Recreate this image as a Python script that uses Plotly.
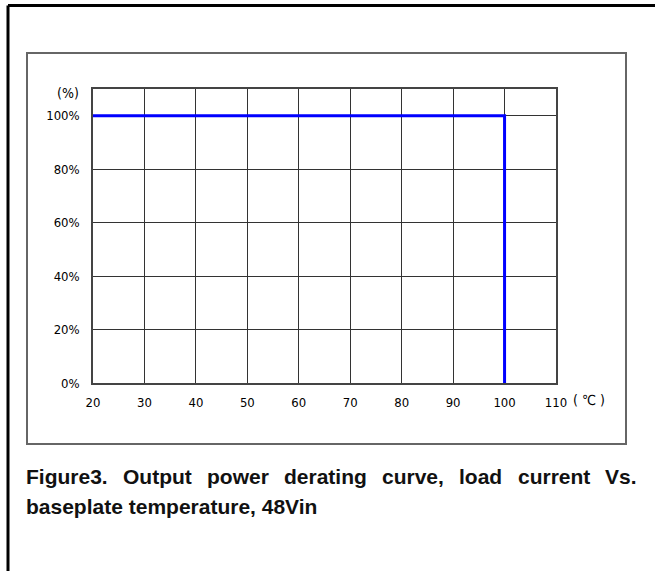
import plotly.graph_objects as go

# Data
temp_c = [20, 100, 100]
power_pct = [100, 100, 0]
x_ticks = [20, 30, 40, 50, 60, 70, 80, 90, 100, 110]
x_tick_labels = ["20", "30", "40", "50", "60", "70", "80", "90", "100", "110"]
y_ticks = [0, 20, 40, 60, 80, 100]
y_tick_labels = ["0%", "20%", "40%", "60%", "80%", "100%"]
caption_line1 = ["Figure3.", "Output", "power", "derating", "curve,", "load", "current", "Vs."]
caption_line2 = "baseplate temperature, 48Vin"

W, H = 655, 571
L, R, T, B = 93, 99, 89, 188
pw, ph = W - L - R, H - T - B

def px(x):
    return (x - L) / pw

def py(y):
    return (H - B - y) / ph

narrow = "Liberation Sans Narrow, DejaVu Sans Condensed, sans-serif"
tick_font = dict(family=narrow, size=13, color="#000")
cap_font = dict(family="Liberation Sans, Arial, sans-serif", size=21, color="#111")

# Arial Bold advance widths (per 1000 em) for justifying caption line 1
AW = {"F": 611, "i": 278, "g": 611, "u": 611, "r": 389, "e": 556, "3": 556, ".": 278,
      "O": 778, "t": 333, "p": 611, "w": 778, "o": 611, "a": 556, "d": 611, "n": 611,
      "c": 556, "v": 556, ",": 278, "l": 278, "V": 667, "s": 556, " ": 278}

def wpx(word, size=21):
    return sum(AW.get(ch, 556) for ch in word) * size / 1000.0

fig = go.Figure()
fig.add_trace(go.Scatter(x=temp_c, y=power_pct, mode="lines",
                         line=dict(color="#0000ff", width=3), showlegend=False,
                         hoverinfo="skip"))

annotations = [
    dict(text="(%)", xref="paper", yref="paper", x=px(68), y=py(93),
         showarrow=False, xanchor="center", yanchor="middle",
         font=dict(family=narrow, size=14, color="#000")),
    dict(text="( ℃ )", xref="paper", yref="paper", x=px(571), y=py(400),
         showarrow=False, xanchor="left", yanchor="middle",
         font=dict(family=narrow, size=14, color="#000")),
    dict(text="<b>" + caption_line2 + "</b>", xref="paper", yref="paper",
         x=px(24), y=py(506), showarrow=False, xanchor="left", yanchor="middle",
         font=cap_font),
]

# justified first caption line
x_left, x_right = 24, 635
total = sum(wpx(w) for w in caption_line1)
gap = (x_right - x_left - total) / (len(caption_line1) - 1)
cx = x_left
for w in caption_line1:
    annotations.append(dict(text="<b>" + w + "</b>", xref="paper", yref="paper",
                            x=px(cx), y=py(476), showarrow=False,
                            xanchor="left", yanchor="middle", font=cap_font))
    cx += wpx(w) + gap

fig.update_layout(
    width=W, height=H, margin=dict(l=L, r=R, t=T, b=B),
    paper_bgcolor="white", plot_bgcolor="white",
    xaxis=dict(range=[20, 110], tickvals=x_ticks, ticktext=x_tick_labels,
               showgrid=True, gridcolor="#333", gridwidth=1,
               showline=True, linecolor="#444", linewidth=1.5, mirror=True,
               ticks="", ticklabelstandoff=7, tickfont=tick_font, zeroline=False,
               fixedrange=True),
    yaxis=dict(range=[0, 110], tickvals=y_ticks, ticktext=y_tick_labels,
               showgrid=True, gridcolor="#333", gridwidth=1,
               showline=True, linecolor="#444", linewidth=1.5, mirror=True,
               ticks="", ticklabelstandoff=9, tickfont=tick_font, zeroline=False,
               fixedrange=True),
    shapes=[
        dict(type="line", xref="paper", yref="paper", x0=px(8), x1=px(W + 5),
             y0=py(5.5), y1=py(5.5), line=dict(color="black", width=3)),
        dict(type="line", xref="paper", yref="paper", x0=px(8), x1=px(8),
             y0=py(5.5), y1=py(H + 5), line=dict(color="black", width=3)),
        dict(type="rect", xref="paper", yref="paper", x0=px(27), x1=px(626),
             y0=py(444), y1=py(53), line=dict(color="#666", width=2),
             layer="below"),
    ],
    annotations=annotations,
)

fig.write_html("out.html")
